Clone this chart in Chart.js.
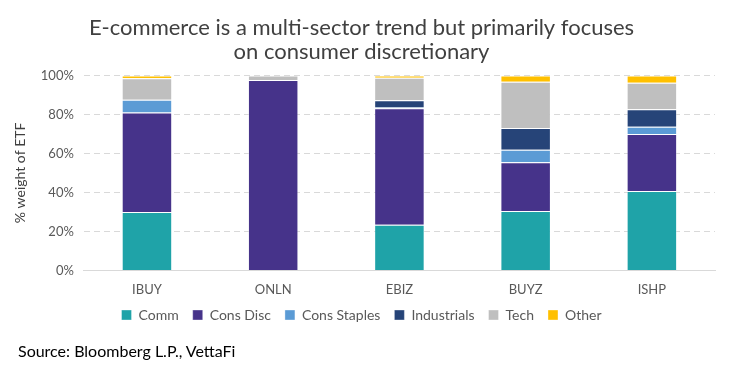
<!DOCTYPE html>
<html>
<head>
<meta charset="utf-8">
<script src="https://cdn.jsdelivr.net/npm/chart.js@4"></script>
<style>
  body { margin: 0; background: #fff; }
  #wrap { position: relative; width: 735px; height: 375px; }
  #source {
    position: absolute; left: 18px; top: 341px;
    font: 16px Lato, 'Open Sans', sans-serif; color: #000;
  }
</style>
</head>
<body>
<div id="wrap">
  <canvas id="etf_weights"></canvas>
  <div id="source">Source: Bloomberg L.P., VettaFi</div>
</div>
<script>
// ETF tickers and sector weights (%)
const funds = ['IBUY', 'ONLN', 'EBIZ', 'BUYZ', 'ISHP'];
const comm = [30, 0, 23.4, 30.4, 40.7];
const consDisc = [51, 97.6, 59.8, 25.1, 29.2];
const consStaples = [6.5, 0, 0.3, 6.4, 3.8];
const industrials = [0, 0, 3.8, 11.1, 8.9];
const tech = [11, 2.4, 11.5, 23.7, 13.6];
const other = [1.5, 0, 1.2, 3.3, 3.8];
const yTicks = [0, 20, 40, 60, 80, 100];

const font = "Lato, 'Open Sans', sans-serif";
Chart.defaults.font.family = font;
Chart.defaults.color = '#595959';

function makeSet(label, data, color) {
    return {
        label: label,
        data: data,
        backgroundColor: color,
        borderColor: 'rgba(255,255,255,0.35)',
        borderWidth: 1,
        barPercentage: 0.8,
        categoryPercentage: 0.5
    };
}

const ctx = document.getElementById('etf_weights').getContext('2d');
const chart = new Chart(ctx, {
    type: 'bar',
    data: {
        labels: funds,
        datasets: [
            makeSet('Comm', comm, '#1fa3a8'),
            makeSet('Cons Disc', consDisc, '#46338a'),
            makeSet('Cons Staples', consStaples, '#5b9bd5'),
            makeSet('Industrials', industrials, '#264478'),
            makeSet('Tech', tech, '#bfbfbf'),
            makeSet('Other', other, '#ffc000')
        ]
    },
    options: {
        responsive: true,
        maintainAspectRatio: false,
        animation: false,
        layout: { padding: { left: 8, right: 20, top: 16, bottom: 43 } },
        scales: {
            x: {
                stacked: true,
                grid: { display: false },
                border: { color: '#d9d9d9' },
                ticks: { color: '#595959', font: { size: 13 }, padding: 4 },
                afterFit: axis => { axis.height -= 8; }
            },
            y: {
                stacked: true,
                min: 0,
                max: 100,
                afterBuildTicks: axis => { axis.ticks = yTicks.map(v => ({ value: v })); },
                grid: { color: '#d9d9d9', drawTicks: false },
                border: { display: false, dash: [6, 4] },
                ticks: {
                    color: '#595959',
                    font: { size: 13 },
                    padding: 10,
                    callback: v => v + '%'
                },
                title: {
                    display: true,
                    text: '% weight of ETF',
                    color: '#404040',
                    font: { size: 14 },
                    padding: { bottom: 2 }
                }
            }
        },
        plugins: {
            title: {
                display: true,
                text: ['E-commerce is a multi-sector trend but primarily focuses', 'on consumer discretionary'],
                color: '#404040',
                font: { size: 22, weight: 'normal', lineHeight: 1.1 },
                padding: { top: 0, bottom: 11 }
            },
            legend: {
                position: 'bottom',
                labels: {
                    boxWidth: 10,
                    boxHeight: 10,
                    color: '#595959',
                    font: { size: 14 },
                    padding: 14
                }
            },
            tooltip: { enabled: false }
        }
    }
});
</script>
</body>
</html>
